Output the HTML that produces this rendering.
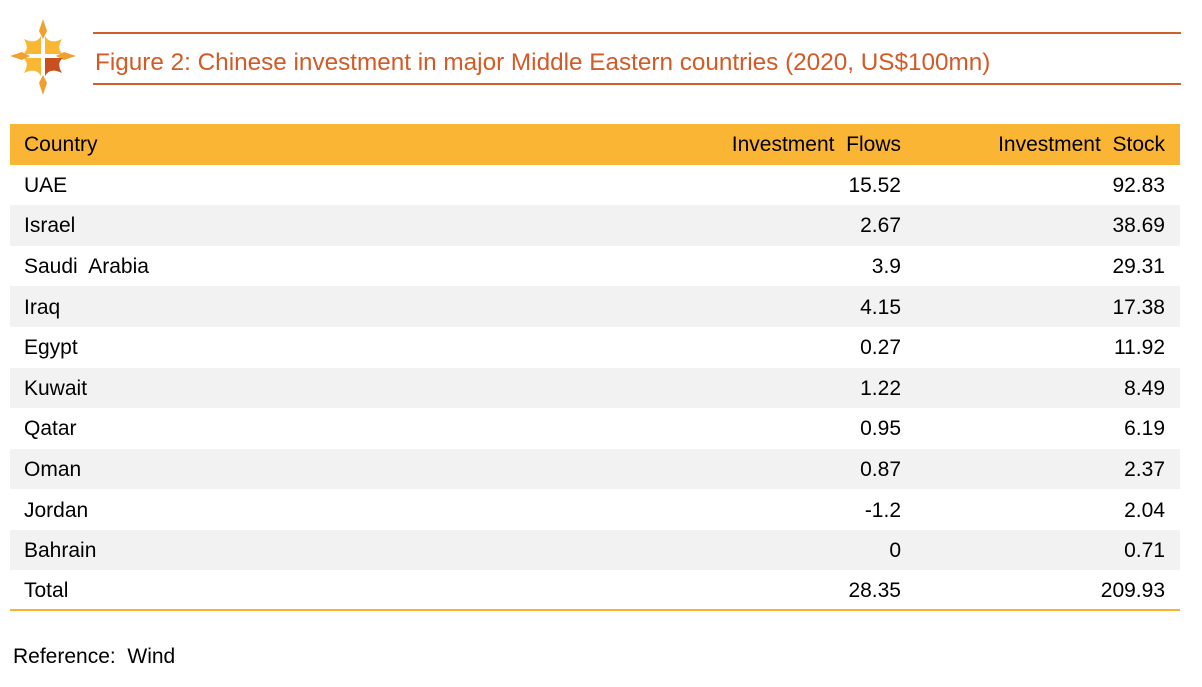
<!DOCTYPE html>
<html><head><meta charset="utf-8"><style>
body{margin:0;width:1202px;height:687px;background:#fff;font-family:"Liberation Sans",sans-serif;position:relative;overflow:hidden}
.ab{position:absolute}
.line{position:absolute;left:93px;width:1088px;height:2px;background:#d0602a}
.title{position:absolute;left:95px;top:49px;font-size:24.3px;color:#d35a26;white-space:nowrap}
.row{position:absolute;left:10px;width:1170px;height:40.6px;font-size:21px;color:#000}
.row span{position:absolute;top:50%;transform:translateY(-45%);white-space:nowrap}
.c1{left:14px}.c2{right:279px}.c3{right:15px}
.g{background:#f2f2f2}
</style></head><body>
<svg class="ab" style="left:8px;top:17px" width="72" height="80" viewBox="0 0 72 80">
<polygon points="35,2 39,14 35,22 31,14" fill="#f0a030"/>
<polygon points="35,58 39,66 35,78 31,66" fill="#f0a030"/>
<polygon points="2,39 14,35 22,39 14,43" fill="#f0a030"/>
<polygon points="48,39 56,35 68,39 56,43" fill="#f0a030"/>
<path d="M33,37 L33,19 Q28,28 16,22 Q22,32 15,37Z" fill="#f9b734"/>
<path d="M37,37 L37,19 Q42,28 54,22 Q48,32 55,37Z" fill="#f9b734"/>
<path d="M33,41 L33,59 Q28,50 16,56 Q22,46 15,41Z" fill="#f9b734"/>
<path d="M37,41 L37,59 Q42,50 54,56 Q48,46 55,41Z" fill="#c8501e"/>
</svg>
<div class="line" style="top:32px"></div>
<div class="title">Figure 2: Chinese investment in major Middle Eastern countries (2020, US$100mn)</div>
<div class="line" style="top:83px"></div>
<div class="row" style="top:124px;background:#fbb535"><span class="c1">Country</span><span class="c2">Investment&nbsp; Flows</span><span class="c3">Investment&nbsp; Stock</span></div>
<div class="row" style="top:164.5px"><span class="c1">UAE</span><span class="c2">15.52</span><span class="c3">92.83</span></div>
<div class="row g" style="top:205.1px"><span class="c1">Israel</span><span class="c2">2.67</span><span class="c3">38.69</span></div>
<div class="row" style="top:245.7px"><span class="c1">Saudi&nbsp; Arabia</span><span class="c2">3.9</span><span class="c3">29.31</span></div>
<div class="row g" style="top:286.3px"><span class="c1">Iraq</span><span class="c2">4.15</span><span class="c3">17.38</span></div>
<div class="row" style="top:326.9px"><span class="c1">Egypt</span><span class="c2">0.27</span><span class="c3">11.92</span></div>
<div class="row g" style="top:367.5px"><span class="c1">Kuwait</span><span class="c2">1.22</span><span class="c3">8.49</span></div>
<div class="row" style="top:408.1px"><span class="c1">Qatar</span><span class="c2">0.95</span><span class="c3">6.19</span></div>
<div class="row g" style="top:448.7px"><span class="c1">Oman</span><span class="c2">0.87</span><span class="c3">2.37</span></div>
<div class="row" style="top:489.3px"><span class="c1">Jordan</span><span class="c2">-1.2</span><span class="c3">2.04</span></div>
<div class="row g" style="top:529.9px"><span class="c1">Bahrain</span><span class="c2">0</span><span class="c3">0.71</span></div>
<div class="row" style="top:570.5px;height:38.5px"><span class="c1">Total</span><span class="c2">28.35</span><span class="c3">209.93</span></div>
<div class="ab" style="left:10px;top:609px;width:1170px;height:2px;background:#fbb130"></div>
<div class="ab" style="left:13px;top:645px;font-size:21px;color:#000">Reference:&nbsp; Wind</div>
</body></html>
